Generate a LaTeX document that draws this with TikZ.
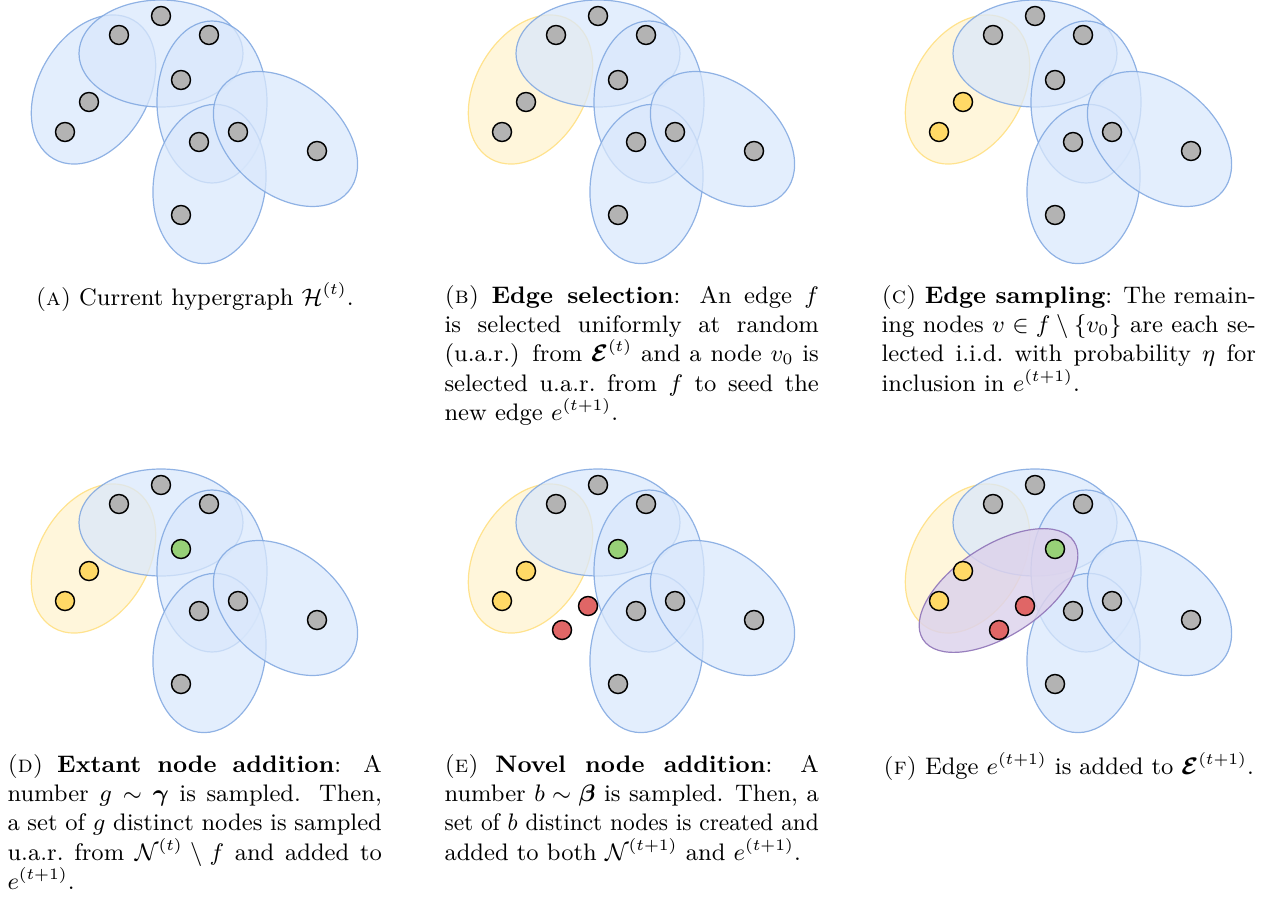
\documentclass[tikz,border=0pt]{standalone}
\usepackage{amsmath,amssymb,graphicx}

\definecolor{edgefill}{HTML}{DAE8FC}
\definecolor{edgestroke}{HTML}{7EA6E0}
\definecolor{selfill}{HTML}{FFF2CC}
\definecolor{selstroke}{HTML}{FFD966}
\definecolor{newfill}{HTML}{DDD3EC}
\definecolor{newstroke}{HTML}{8F74B8}
\definecolor{vgray}{HTML}{B3B3B3}
\definecolor{vyellow}{HTML}{FFD966}
\definecolor{vgreen}{HTML}{97D077}
\definecolor{vred}{HTML}{E06666}

\tikzset{
  hedge/.style={draw=edgestroke, fill=edgefill, fill opacity=0.75, draw opacity=0.85, line width=0.45pt},
  seledge/.style={draw=selstroke, fill=selfill, fill opacity=0.7, draw opacity=0.7, line width=0.45pt},
  newedge/.style={draw=newstroke, fill=newfill, fill opacity=0.85, draw opacity=0.9, line width=0.45pt},
  vert/.style={circle, draw=black, fill=vgray, line width=0.55pt, minimum size=7.15pt, inner sep=0pt},
  caption/.style={text width=140.9pt, align=justify, inner sep=0pt, font=\small, anchor=north west},
}

% the five hyperedges, #1 = style of the left one
\newcommand{\drawedges}[1]{%
  \draw[#1, rotate around={60:(93.5,89.5)}] (93.5,89.5) ellipse [x radius=80, y radius=55];
  \draw[hedge] (161,53.5) ellipse [x radius=82, y radius=53.5];
  \draw[hedge] (212,102) ellipse [x radius=55, y radius=81];
  \draw[hedge, rotate around={-8:(209.5,184)}] (209.5,184) ellipse [x radius=56, y radius=80];
  \draw[hedge, rotate around={-40:(285.5,139)}] (285.5,139) ellipse [x radius=82, y radius=55];
}

% the ten nodes, #1 = prefix, #2 = colour of v4, #3 = colour of v5 and v6
\newcommand{\drawverts}[3]{%
  \foreach \n/\x/\y in {1/161/16, 2/119/35, 3/209/35, 7/199/142, 8/238/132, 9/317/151, 10/181/215}
    \node[vert] (#1-\n) at (\x,\y) {};
  \node[vert, fill=#2] (#1-4) at (181,80) {};
  \node[vert, fill=#3] (#1-5) at (89,102) {};
  \node[vert, fill=#3] (#1-6) at (65,132) {};
}

\begin{document}
\begin{tikzpicture}[x=0.37636pt, y=-0.37636pt]
\useasboundingbox (0,0) rectangle (1273,903);

% (a)
\begin{scope}
  \drawedges{hedge}
  \drawverts{a}{vgray}{vgray}
\end{scope}
% (b)
\begin{scope}[shift={(437,0)}]
  \drawedges{seledge}
  \drawverts{b}{vgray}{vgray}
\end{scope}
% (c)
\begin{scope}[shift={(874,0)}]
  \drawedges{seledge}
  \drawverts{c}{vgray}{vyellow}
\end{scope}
% (d)
\begin{scope}[shift={(0,469)}]
  \drawedges{seledge}
  \drawverts{d}{vgreen}{vyellow}
\end{scope}
% (e)
\begin{scope}[shift={(437,469)}]
  \drawedges{seledge}
  \drawverts{e}{vgreen}{vyellow}
  \node[vert, fill=vred] (e-r1) at (151,137) {};
  \node[vert, fill=vred] (e-r2) at (125,161) {};
\end{scope}
% (f)
\begin{scope}[shift={(874,469)}]
  \drawedges{seledge}
  \draw[newedge, rotate around={33:(124.5,121.5)}] (124.5,121.5) ellipse [x radius=90, y radius=45];
  \drawverts{f}{vgreen}{vyellow}
  \node[vert, fill=vred] (f-r1) at (151,137) {};
  \node[vert, fill=vred] (f-r2) at (125,161) {};
\end{scope}

% captions
\node[caption, align=center] (capa) at (7,282.5)
  {\strut\textsc{(a)} Current hypergraph $\mathcal{H}^{(t)}$.};
\node[caption] (capb) at (444,282.5)
  {\strut\textsc{(b)} \textbf{Edge selection}: An edge $f$ is selected uniformly at random (u.a.r.) from $\boldsymbol{\mathcal{E}}^{(t)}$ and a node $v_0$ is\linebreak selected u.a.r.\ from $f$ to seed the new edge $e^{(t+1)}$.};
\node[caption] (capc) at (881,282.5)
  {\strut\textsc{(c)} \textbf{Edge sampling}: The remaining nodes $v \in f \setminus \{v_0\}$ are each selected i.i.d.\ with probability $\eta$ for inclusion in $e^{(t+1)}$.};
\node[caption] (capd) at (7,751.5)
  {\strut\textsc{(d)} \textbf{Extant node addition}: A number $g \sim \boldsymbol{\gamma}$ is sampled. Then, a set of $g$ distinct nodes is sampled u.a.r.\ from $\mathcal{N}^{(t)} \setminus f$ and added to $e^{(t+1)}$.};
\node[caption] (cape) at (444,751.5)
  {\strut\textsc{(e)} \textbf{Novel node addition}: A number $b \sim \boldsymbol{\beta}$ is sampled. Then, a\linebreak
   \resizebox{\linewidth}{\height}{set of $b$ distinct nodes is created and}\linebreak
   added to both $\mathcal{N}^{(t+1)}$ and $e^{(t+1)}$.};
\node[caption, align=center] (capf) at (881,751.5)
  {\strut\textsc{(f)} Edge $e^{(t+1)}$ is added to $\boldsymbol{\mathcal{E}}^{(t+1)}$.};
\end{tikzpicture}
\end{document}
